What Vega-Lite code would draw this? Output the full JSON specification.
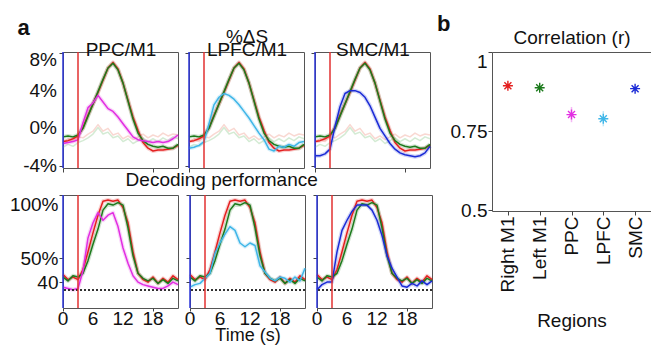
{
"$schema":"https://vega.github.io/schema/vega-lite/v6.json",
"padding":{"left":8,"top":12,"right":5,"bottom":0},
"config":{"font":"Liberation Sans","view":{"stroke":"#555","strokeWidth":1},
"axis":{"domain":false,"grid":false,"tickSize":4,"tickColor":"#444","labelFontSize":19,"labelColor":"#111","labelPadding":1,"labelOverlap":false,"titleFontSize":19,"titleFontWeight":"normal","titleColor":"#111"},
"line":{"clip":true,"strokeJoin":"round"},"rule":{"clip":true},
"text":{"fontSize":19,"color":"#111"},
"title":{"fontSize":19,"fontWeight":"normal","color":"#111","offset":2}},
"datasets":{
"top":[
{"t":0,"R":-1.4,"L":-0.9,"PPC":-1.6,"LPFC":-2.1,"SMC":-2.9,"sR":-1.5,"sL":-2.0},
{"t":1,"R":-1.3,"L":-0.8,"PPC":-1.5,"LPFC":-2.0,"SMC":-2.9,"sR":-1.1,"sL":-1.7},
{"t":2,"R":-1.1,"L":-0.9,"PPC":-1.4,"LPFC":-1.8,"SMC":-2.7,"sR":-1.4,"sL":-1.9},
{"t":3,"R":-0.8,"L":-0.7,"PPC":-1.2,"LPFC":-1.4,"SMC":-2.2,"sR":-0.9,"sL":-1.5},
{"t":4,"R":0.1,"L":0.0,"PPC":0.6,"LPFC":0.5,"SMC":0.2,"sR":-1.0,"sL":-1.3},
{"t":5,"R":1.4,"L":1.3,"PPC":2.2,"LPFC":2.5,"SMC":2.3,"sR":-0.6,"sL":-1.0},
{"t":6,"R":2.6,"L":2.6,"PPC":2.7,"LPFC":3.3,"SMC":3.7,"sR":-0.3,"sL":-0.6},
{"t":7,"R":3.8,"L":3.9,"PPC":3.5,"LPFC":3.7,"SMC":4.0,"sR":0.4,"sL":0.1},
{"t":8,"R":5.1,"L":5.2,"PPC":2.8,"LPFC":3.5,"SMC":4.0,"sR":-0.3,"sL":-0.6},
{"t":9,"R":6.4,"L":6.4,"PPC":2.1,"LPFC":3.1,"SMC":3.8,"sR":0.0,"sL":-0.4},
{"t":10,"R":7.0,"L":6.9,"PPC":1.8,"LPFC":2.5,"SMC":3.3,"sR":-0.7,"sL":-1.0},
{"t":11,"R":6.3,"L":6.2,"PPC":1.2,"LPFC":1.8,"SMC":2.4,"sR":-0.5,"sL":-0.8},
{"t":12,"R":4.8,"L":4.8,"PPC":0.5,"LPFC":1.1,"SMC":1.2,"sR":-1.1,"sL":-1.4},
{"t":13,"R":3.0,"L":2.9,"PPC":-0.2,"LPFC":0.3,"SMC":0.0,"sR":-0.8,"sL":-1.1},
{"t":14,"R":1.2,"L":1.0,"PPC":-0.9,"LPFC":-0.5,"SMC":-0.8,"sR":-1.2,"sL":-1.6},
{"t":15,"R":-0.2,"L":-0.5,"PPC":-1.2,"LPFC":-1.2,"SMC":-1.6,"sR":-0.9,"sL":-1.3},
{"t":16,"R":-1.5,"L":-1.3,"PPC":-1.3,"LPFC":-2.2,"SMC":-2.2,"sR":-0.6,"sL":-1.0},
{"t":17,"R":-2.1,"L":-1.7,"PPC":-1.4,"LPFC":-2.4,"SMC":-2.6,"sR":-1.0,"sL":-1.4},
{"t":18,"R":-2.4,"L":-1.9,"PPC":-1.5,"LPFC":-1.9,"SMC":-2.8,"sR":-0.7,"sL":-1.1},
{"t":19,"R":-2.3,"L":-2.0,"PPC":-1.4,"LPFC":-2.0,"SMC":-2.9,"sR":-0.9,"sL":-1.4},
{"t":20,"R":-2.3,"L":-1.9,"PPC":-1.5,"LPFC":-1.7,"SMC":-3.0,"sR":-0.5,"sL":-1.0},
{"t":21,"R":-2.2,"L":-2.1,"PPC":-1.4,"LPFC":-1.9,"SMC":-2.9,"sR":-0.8,"sL":-1.3},
{"t":22,"R":-2.1,"L":-2.1,"PPC":-1.1,"LPFC":-1.5,"SMC":-2.6,"sR":-0.6,"sL":-0.9},
{"t":23,"R":-1.8,"L":-1.7,"PPC":-0.7,"LPFC":-1.4,"SMC":-1.9,"sR":-0.7,"sL":-1.1}],
"bot":[
{"t":0,"R":37,"L":35,"PPC":27,"LPFC":27,"SMC":25},
{"t":1,"R":33,"L":32,"PPC":26,"LPFC":29,"SMC":29},
{"t":2,"R":35,"L":36,"PPC":25,"LPFC":30,"SMC":31},
{"t":3,"R":33,"L":35,"PPC":26,"LPFC":34,"SMC":31},
{"t":4,"R":41,"L":38,"PPC":40,"LPFC":38,"SMC":55},
{"t":5,"R":55,"L":48,"PPC":66,"LPFC":54,"SMC":72},
{"t":6,"R":70,"L":61,"PPC":78,"LPFC":62,"SMC":80},
{"t":7,"R":84,"L":73,"PPC":86,"LPFC":69,"SMC":87},
{"t":8,"R":95,"L":88,"PPC":80,"LPFC":75,"SMC":92},
{"t":9,"R":96,"L":93,"PPC":84,"LPFC":72,"SMC":92},
{"t":10,"R":95,"L":92,"PPC":86,"LPFC":62,"SMC":92},
{"t":11,"R":96,"L":94,"PPC":75,"LPFC":59,"SMC":88},
{"t":12,"R":90,"L":92,"PPC":58,"LPFC":62,"SMC":80},
{"t":13,"R":78,"L":74,"PPC":46,"LPFC":60,"SMC":68},
{"t":14,"R":55,"L":52,"PPC":36,"LPFC":44,"SMC":52},
{"t":15,"R":38,"L":38,"PPC":31,"LPFC":39,"SMC":42},
{"t":16,"R":33,"L":34,"PPC":29,"LPFC":34,"SMC":35},
{"t":17,"R":31,"L":32,"PPC":28,"LPFC":32,"SMC":28},
{"t":18,"R":35,"L":34,"PPC":27,"LPFC":35,"SMC":27},
{"t":19,"R":30,"L":30,"PPC":26,"LPFC":34,"SMC":30},
{"t":20,"R":34,"L":33,"PPC":26,"LPFC":31,"SMC":28},
{"t":21,"R":31,"L":30,"PPC":28,"LPFC":35,"SMC":32},
{"t":22,"R":36,"L":34,"PPC":31,"LPFC":32,"SMC":29},
{"t":23,"R":33,"L":32,"PPC":29,"LPFC":42,"SMC":32}],
"marks":[{"t":0,"series":"cue"},{"t":3,"series":"go"}],
"xlab":[{"t":0},{"t":6},{"t":12},{"t":18}],
"ylab":[{"v":-4,"lab":"-4%"},{"v":0,"lab":"0%"},{"v":4,"lab":"4%"}],
"ytop":[{"v":8,"lab":"8%"}],
"corr":[
{"region":"Right M1","series":"R","r":0.893,"lo":0.885,"hi":0.901},
{"region":"Left M1","series":"L","r":0.887,"lo":0.881,"hi":0.893},
{"region":"PPC","series":"PPC","r":0.802,"lo":0.778,"hi":0.826},
{"region":"LPFC","series":"LPFC","r":0.789,"lo":0.765,"hi":0.813},
{"region":"SMC","series":"SMC","r":0.884,"lo":0.878,"hi":0.890}]
},
"hconcat":[
{"vconcat":[
 {"spacing":3,"resolve":{"scale":{"x":"independent","y":"independent"}},
  "hconcat":[
  {"width":115,"height":116,"data":{"name":"top"},
   "layer":[
    {"transform":[{"fold":["sR","sL"],"as":["series","v"]}],"mark":{"type":"line","strokeWidth":1.5,"opacity":0.45},
     "encoding":{"x":{"field":"t","type":"quantitative","scale":{"domain":[0,23],"nice":false},"axis":{"values":[0,6,12,18],"labels":false,"title":"a","titleX":-46,"titleY":-141,"titleAngle":0,"titleAlign":"left","titleBaseline":"middle","titleFontWeight":"bold","titleFontSize":22}},
      "y":{"field":"v","type":"quantitative","scale":{"domain":[-4.2,8.1],"nice":false},"axis":{"values":[-4,0,4,8],"labels":false,"title":"PPC/M1","titleAngle":0,"titleX":57.5,"titleY":7,"titleAlign":"center","titleBaseline":"bottom"}},
      "color":{"field":"series","type":"nominal","scale":{"domain":["R","L","PPC","LPFC","SMC","sR","sL","cue","go"],"range":["#e41f1f","#1c7a1c","#e22ee2","#3fb6e8","#1b2bd6","#f2a89c","#9fd3a0","#2b35d8","#e23030"]},"legend":null}}},
    {"transform":[{"fold":["R","L","PPC"],"as":["series","v"]}],"mark":{"type":"line","strokeWidth":4,"opacity":0.2},
     "encoding":{"x":{"field":"t","type":"quantitative"},"y":{"field":"v","type":"quantitative"},"color":{"field":"series","type":"nominal"}}},
    {"transform":[{"fold":["R","L","PPC"],"as":["series","v"]}],"mark":{"type":"line","strokeWidth":1.5},
     "encoding":{"x":{"field":"t","type":"quantitative"},"y":{"field":"v","type":"quantitative"},"color":{"field":"series","type":"nominal"}}},
    {"data":{"name":"marks"},"mark":{"type":"rule","strokeWidth":1.5},"encoding":{"x":{"field":"t","type":"quantitative"},"color":{"field":"series","type":"nominal"}}},
    {"data":{"name":"ylab"},"mark":{"type":"text","align":"right","baseline":"middle","dx":-6},"encoding":{"x":{"datum":0},"y":{"field":"v","type":"quantitative"},"text":{"field":"lab"}}},
    {"data":{"name":"ytop"},"mark":{"type":"text","align":"right","baseline":"top","dx":-6,"dy":-2},"encoding":{"x":{"datum":0},"y":{"field":"v","type":"quantitative"},"text":{"field":"lab"}}}
   ]},
  {"width":115,"height":116,"data":{"name":"top"},
   "layer":[
    {"transform":[{"fold":["sR","sL"],"as":["series","v"]}],"mark":{"type":"line","strokeWidth":1.5,"opacity":0.45},
     "encoding":{"x":{"field":"t","type":"quantitative","scale":{"domain":[0,23],"nice":false},"axis":{"values":[0,6,12,18],"labels":false,"title":null}},
      "y":{"field":"v","type":"quantitative","scale":{"domain":[-4.2,8.1],"nice":false},"axis":{"values":[-4,0,4,8],"labels":false,"title":["%ΔS","LPFC/M1"],"titleLineHeight":13,"titleAngle":0,"titleX":57.5,"titleY":-6,"titleAlign":"center","titleBaseline":"bottom"}},
      "color":{"field":"series","type":"nominal","scale":{"domain":["R","L","PPC","LPFC","SMC","sR","sL","cue","go"],"range":["#e41f1f","#1c7a1c","#e22ee2","#3fb6e8","#1b2bd6","#f2a89c","#9fd3a0","#2b35d8","#e23030"]},"legend":null}}},
    {"transform":[{"fold":["R","L","LPFC"],"as":["series","v"]}],"mark":{"type":"line","strokeWidth":4,"opacity":0.2},
     "encoding":{"x":{"field":"t","type":"quantitative"},"y":{"field":"v","type":"quantitative"},"color":{"field":"series","type":"nominal"}}},
    {"transform":[{"fold":["R","L","LPFC"],"as":["series","v"]}],"mark":{"type":"line","strokeWidth":1.5},
     "encoding":{"x":{"field":"t","type":"quantitative"},"y":{"field":"v","type":"quantitative"},"color":{"field":"series","type":"nominal"}}},
    {"data":{"name":"marks"},"mark":{"type":"rule","strokeWidth":1.5},"encoding":{"x":{"field":"t","type":"quantitative"},"color":{"field":"series","type":"nominal"}}}
   ]},
  {"width":115,"height":116,"data":{"name":"top"},
   "layer":[
    {"transform":[{"fold":["sR","sL"],"as":["series","v"]}],"mark":{"type":"line","strokeWidth":1.5,"opacity":0.45},
     "encoding":{"x":{"field":"t","type":"quantitative","scale":{"domain":[0,23],"nice":false},"axis":{"values":[0,6,12,18],"labels":false,"title":null}},
      "y":{"field":"v","type":"quantitative","scale":{"domain":[-4.2,8.1],"nice":false},"axis":{"values":[-4,0,4,8],"labels":false,"title":"SMC/M1","titleAngle":0,"titleX":57.5,"titleY":7,"titleAlign":"center","titleBaseline":"bottom"}},
      "color":{"field":"series","type":"nominal","scale":{"domain":["R","L","PPC","LPFC","SMC","sR","sL","cue","go"],"range":["#e41f1f","#1c7a1c","#e22ee2","#3fb6e8","#1b2bd6","#f2a89c","#9fd3a0","#2b35d8","#e23030"]},"legend":null}}},
    {"transform":[{"fold":["R","L","SMC"],"as":["series","v"]}],"mark":{"type":"line","strokeWidth":4,"opacity":0.2},
     "encoding":{"x":{"field":"t","type":"quantitative"},"y":{"field":"v","type":"quantitative"},"color":{"field":"series","type":"nominal"}}},
    {"transform":[{"fold":["R","L","SMC"],"as":["series","v"]}],"mark":{"type":"line","strokeWidth":1.5},
     "encoding":{"x":{"field":"t","type":"quantitative"},"y":{"field":"v","type":"quantitative"},"color":{"field":"series","type":"nominal"}}},
    {"data":{"name":"marks"},"mark":{"type":"rule","strokeWidth":1.5},"encoding":{"x":{"field":"t","type":"quantitative"},"color":{"field":"series","type":"nominal"}}}
   ]}
 ]},
 {"title":{"text":"Decoding performance","anchor":"middle","offset":4},"spacing":3,"resolve":{"scale":{"x":"independent","y":"independent"}},
  "hconcat":[
  {"width":115,"height":113,"data":{"name":"bot"},
   "layer":[
    {"transform":[{"fold":["R","L","PPC"],"as":["series","v"]}],"mark":{"type":"line","strokeWidth":4,"opacity":0.2},
     "encoding":{"x":{"field":"t","type":"quantitative","scale":{"domain":[0,23],"nice":false},"axis":{"values":[0,6,12,18],"labels":false,"tickSize":3,"title":null}},
      "y":{"field":"v","type":"quantitative","scale":{"domain":[10.5,100],"nice":false},"axis":{"values":[31,50,100],"labelOverlap":false,"labelFlush":1.5,"labelExpr":"datum.value == 31 ? '40' : datum.value + '%'","title":null}},
      "color":{"field":"series","type":"nominal","scale":{"domain":["R","L","PPC","LPFC","SMC","sR","sL","cue","go"],"range":["#e41f1f","#1c7a1c","#e22ee2","#3fb6e8","#1b2bd6","#f2a89c","#9fd3a0","#2b35d8","#e23030"]},"legend":null}}},
    {"transform":[{"fold":["R","L","PPC"],"as":["series","v"]}],"mark":{"type":"line","strokeWidth":1.5},
     "encoding":{"x":{"field":"t","type":"quantitative"},"y":{"field":"v","type":"quantitative"},"color":{"field":"series","type":"nominal"}}},
    {"mark":{"type":"rule","strokeDash":[2,2],"color":"#333","strokeWidth":1},"encoding":{"y":{"datum":25}}},
    {"data":{"name":"marks"},"mark":{"type":"rule","strokeWidth":1.5},"encoding":{"x":{"field":"t","type":"quantitative"},"color":{"field":"series","type":"nominal"}}},
    {"data":{"name":"xlab"},"mark":{"type":"text","align":"center","baseline":"top","dy":2},"encoding":{"x":{"field":"t","type":"quantitative"},"y":{"datum":10.5},"text":{"field":"t","type":"quantitative"}}}
   ]},
  {"width":115,"height":113,"data":{"name":"bot"},
   "layer":[
    {"transform":[{"fold":["R","L","LPFC"],"as":["series","v"]}],"mark":{"type":"line","strokeWidth":4,"opacity":0.2},
     "encoding":{"x":{"field":"t","type":"quantitative","scale":{"domain":[0,23],"nice":false},"axis":{"values":[0,6,12,18],"labels":false,"tickSize":3,"title":"Time (s)","titleFontSize":18,"titlePadding":15}},
      "y":{"field":"v","type":"quantitative","scale":{"domain":[10.5,100],"nice":false},"axis":{"values":[31,50,100],"labels":false,"title":null}},
      "color":{"field":"series","type":"nominal","scale":{"domain":["R","L","PPC","LPFC","SMC","sR","sL","cue","go"],"range":["#e41f1f","#1c7a1c","#e22ee2","#3fb6e8","#1b2bd6","#f2a89c","#9fd3a0","#2b35d8","#e23030"]},"legend":null}}},
    {"transform":[{"fold":["R","L","LPFC"],"as":["series","v"]}],"mark":{"type":"line","strokeWidth":1.5},
     "encoding":{"x":{"field":"t","type":"quantitative"},"y":{"field":"v","type":"quantitative"},"color":{"field":"series","type":"nominal"}}},
    {"mark":{"type":"rule","strokeDash":[2,2],"color":"#333","strokeWidth":1},"encoding":{"y":{"datum":25}}},
    {"data":{"name":"marks"},"mark":{"type":"rule","strokeWidth":1.5},"encoding":{"x":{"field":"t","type":"quantitative"},"color":{"field":"series","type":"nominal"}}},
    {"data":{"name":"xlab"},"mark":{"type":"text","align":"center","baseline":"top","dy":2},"encoding":{"x":{"field":"t","type":"quantitative"},"y":{"datum":10.5},"text":{"field":"t","type":"quantitative"}}}
   ]},
  {"width":115,"height":113,"data":{"name":"bot"},
   "layer":[
    {"transform":[{"fold":["R","L","SMC"],"as":["series","v"]}],"mark":{"type":"line","strokeWidth":4,"opacity":0.2},
     "encoding":{"x":{"field":"t","type":"quantitative","scale":{"domain":[0,23],"nice":false},"axis":{"values":[0,6,12,18],"labels":false,"tickSize":3,"title":null}},
      "y":{"field":"v","type":"quantitative","scale":{"domain":[10.5,100],"nice":false},"axis":{"values":[31,50,100],"labels":false,"title":null}},
      "color":{"field":"series","type":"nominal","scale":{"domain":["R","L","PPC","LPFC","SMC","sR","sL","cue","go"],"range":["#e41f1f","#1c7a1c","#e22ee2","#3fb6e8","#1b2bd6","#f2a89c","#9fd3a0","#2b35d8","#e23030"]},"legend":null}}},
    {"transform":[{"fold":["R","L","SMC"],"as":["series","v"]}],"mark":{"type":"line","strokeWidth":1.5},
     "encoding":{"x":{"field":"t","type":"quantitative"},"y":{"field":"v","type":"quantitative"},"color":{"field":"series","type":"nominal"}}},
    {"mark":{"type":"rule","strokeDash":[2,2],"color":"#333","strokeWidth":1},"encoding":{"y":{"datum":25}}},
    {"data":{"name":"marks"},"mark":{"type":"rule","strokeWidth":1.5},"encoding":{"x":{"field":"t","type":"quantitative"},"color":{"field":"series","type":"nominal"}}},
    {"data":{"name":"xlab"},"mark":{"type":"text","align":"center","baseline":"top","dy":2},"encoding":{"x":{"field":"t","type":"quantitative"},"y":{"datum":10.5},"text":{"field":"t","type":"quantitative"}}}
   ]}
 ]}
 ],"spacing":-7,"resolve":{"scale":{"x":"independent","y":"independent"}}},
{"width":159,"height":159,"title":{"text":"b","anchor":"start","frame":"bounds","fontWeight":"bold","fontSize":22,"offset":0,"dx":-13,"dy":8},"data":{"name":"corr"},
 "layer":[
  {"mark":{"type":"rule","strokeWidth":1.5,"opacity":0.35},
   "encoding":{"x":{"field":"region","type":"nominal","sort":null,"scale":{"type":"point","padding":0.5},"axis":{"labelAngle":-90,"labelAlign":"right","labelBaseline":"middle","title":"Regions","titlePadding":19}},
    "y":{"field":"lo","type":"quantitative","scale":{"domain":[0.497,1],"nice":false},"axis":{"values":[0.5,0.75,1],"labelOverlap":false,"labelFlush":0.5,"labelExpr":"'' + datum.value","title":"Correlation (r)","titleAngle":0,"titleX":79.5,"titleY":-5,"titleAlign":"center","titleBaseline":"bottom"}},
    "y2":{"field":"hi"},
    "color":{"field":"series","type":"nominal","scale":{"domain":["R","L","PPC","LPFC","SMC","sR","sL","cue","go"],"range":["#e41f1f","#1c7a1c","#e22ee2","#3fb6e8","#1b2bd6","#f2a89c","#9fd3a0","#2b35d8","#e23030"]},"legend":null}}},
  {"mark":{"type":"point","shape":"M-1,0L1,0M0,-1L0,1M-0.7,-0.7L0.7,0.7M-0.7,0.7L0.7,-0.7","size":100,"filled":false,"strokeWidth":1.4,"opacity":1},
   "encoding":{"x":{"field":"region","type":"nominal","sort":null},"y":{"field":"r","type":"quantitative"},"color":{"field":"series","type":"nominal"}}}
 ]}
],"spacing":1,"resolve":{"scale":{"x":"independent","y":"independent"}}
}
